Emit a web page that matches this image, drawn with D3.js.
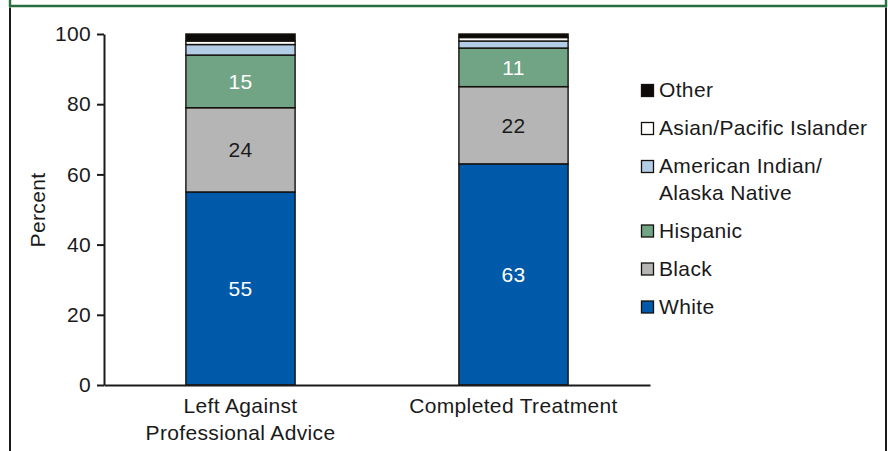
<!DOCTYPE html>
<html>
<head>
<meta charset="utf-8">
<script src="https://cdn.jsdelivr.net/npm/d3@7/dist/d3.min.js"></script>
<style>
  body { margin: 0; background: #fff; }
  text { font-family: "Liberation Sans", Arial, Helvetica, sans-serif; fill: #1a1a1a; letter-spacing: 0.35px; }
</style>
</head>
<body>
<svg id="chart" width="888" height="451"></svg>
<script>
// categories (x axis), label lines as printed
const categories = ["Left Against Professional Advice", "Completed Treatment"];
const categoryLines = [["Left Against", "Professional Advice"], ["Completed Treatment"]];

// series, bottom of stack to top
const seriesNames = ["White", "Black", "Hispanic", "American Indian/Alaska Native", "Asian/Pacific Islander", "Other"];
const legendLines = [["White"], ["Black"], ["Hispanic"], ["American Indian/", "Alaska Native"], ["Asian/Pacific Islander"], ["Other"]];
const white    = [55, 63];
const black    = [24, 22];
const hispanic = [15, 11];
const amIndian = [3, 2];
const asian    = [1, 1];
const other    = [2, 1];
const seriesValues = [white, black, hispanic, amIndian, asian, other];
const labelled = ["White", "Black", "Hispanic"];

const yTicks = [0, 20, 40, 60, 80, 100];

const colors = ["#0059a9", "#b5b5b5", "#70a485", "#b3cde6", "#ffffff", "#0d0b08"];
const labelColors = ["#ffffff", "#1a1a1a", "#ffffff"];

const svg = d3.select("#chart");
const fontSize = 21;

// frame: green cap line, black side rules
svg.append("path")
  .attr("d", "M10,0V6H886V0")
  .attr("fill", "none").attr("stroke", "#276f3e").attr("stroke-width", 2.4);
svg.append("path")
  .attr("d", "M10,7.5V451M886,7.5V451")
  .attr("fill", "none").attr("stroke", "#1a1a1a").attr("stroke-width", 2);

const x = d3.scaleBand()
  .domain(categories)
  .range([104, 650])
  .paddingInner(0.6)
  .paddingOuter(0.3);

const y = d3.scaleLinear().domain([0, 100]).range([385, 34]);

// build rows for stacking
const rows = categories.map((c, i) => {
  const r = { category: c };
  seriesNames.forEach((s, j) => r[s] = seriesValues[j][i]);
  return r;
});
const stacked = d3.stack().keys(seriesNames)(rows);

const layers = svg.append("g").selectAll("g")
  .data(stacked)
  .join("g")
  .attr("fill", (d, i) => colors[i]);

layers.selectAll("rect")
  .data(d => d)
  .join("rect")
  .attr("x", d => x(d.data.category))
  .attr("width", x.bandwidth())
  .attr("y", d => y(d[1]))
  .attr("height", d => y(d[0]) - y(d[1]))
  .attr("stroke", "#14110d")
  .attr("stroke-width", 1.4);

// value labels inside the big segments
stacked.forEach((layer, i) => {
  if (!labelled.includes(layer.key)) return;
  svg.append("g").selectAll("text")
    .data(layer)
    .join("text")
    .attr("x", d => x(d.data.category) + x.bandwidth() / 2)
    .attr("y", d => (y(d[0]) + y(d[1])) / 2)
    .attr("dy", "0.36em")
    .attr("text-anchor", "middle")
    .style("font-size", fontSize + "px")
    .style("fill", labelColors[i])
    .text(d => d[1] - d[0]);
});

// y axis
const yAxis = svg.append("g")
  .attr("transform", "translate(104,0)")
  .call(d3.axisLeft(y).tickValues(yTicks).tickSize(7).tickPadding(6).tickSizeOuter(0));
yAxis.select(".domain").attr("stroke", "#1a1a1a").attr("stroke-width", 2);
yAxis.selectAll(".tick line").attr("stroke", "#1a1a1a").attr("stroke-width", 2);
yAxis.selectAll(".tick text")
  .style("font-size", fontSize + "px")
  .style("font-family", "'Liberation Sans', Arial, sans-serif")
  .attr("fill", "#1a1a1a");

// x axis baseline
const xAxis = svg.append("g")
  .attr("transform", "translate(0,385)")
  .call(d3.axisBottom(x).tickSize(0).tickSizeOuter(0).tickFormat(""));
xAxis.select(".domain").attr("stroke", "#1a1a1a").attr("stroke-width", 2.2);

// category labels
categories.forEach((c, i) => {
  const t = svg.append("text")
    .attr("x", x(c) + x.bandwidth() / 2)
    .attr("y", 413)
    .attr("text-anchor", "middle")
    .style("font-size", fontSize + "px");
  categoryLines[i].forEach((line, k) => {
    t.append("tspan")
      .attr("x", x(c) + x.bandwidth() / 2)
      .attr("dy", k === 0 ? 0 : 26.5)
      .text(line);
  });
});

// y title
svg.append("text")
  .attr("transform", "translate(45,210) rotate(-90)")
  .attr("text-anchor", "middle")
  .style("font-size", fontSize + "px")
  .text("Percent");

// legend, top to bottom is reverse of stack
const legend = svg.append("g");
let base = 97;
seriesNames.slice().reverse().forEach((s) => {
  const idx = seriesNames.indexOf(s);
  legend.append("rect")
    .attr("x", 641.5).attr("y", base - 12.5)
    .attr("width", 12).attr("height", 12)
    .attr("fill", colors[idx])
    .attr("stroke", "#14110d").attr("stroke-width", 1.3);
  const t = legend.append("text")
    .attr("x", 659).attr("y", base)
    .style("font-size", fontSize + "px");
  legendLines[idx].forEach((line, j) => {
    t.append("tspan").attr("x", 659).attr("dy", j === 0 ? 0 : 26.5).text(line);
  });
  base += 38 + (legendLines[idx].length - 1) * 26.5;
});
</script>
</body>
</html>
